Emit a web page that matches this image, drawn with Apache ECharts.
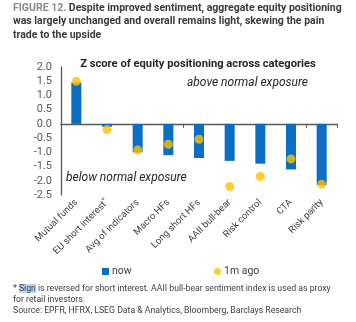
<!DOCTYPE html>
<html>
<head>
<meta charset="utf-8">
<script src="https://cdn.jsdelivr.net/npm/echarts@6/dist/echarts.min.js"></script>
<style>
  html, body { margin: 0; padding: 0; background: #ffffff; }
  #chart { width: 356px; height: 322px; }
</style>
</head>
<body>
<div id="chart"></div>
<script>
// Positioning categories and their z-scores
const categories = ['Mutual funds', 'EU short interest*', 'Avg of indicators', 'Macro HFs',
  'Long short HFs', 'AAII bull-bear', 'Risk control', 'CTA', 'Risk parity'];
const nowValues = [1.45, -0.1, -1.0, -1.1, -1.2, -1.3, -1.4, -1.6, -2.15];
const monthAgoValues = [1.5, -0.2, -0.92, -0.72, -0.54, -2.2, -1.85, -1.23, -2.12];
const yMin = -2.5, yMax = 2.0, yStep = 0.5;

const figureTag = 'FIGURE 12. ';
const headerLines = [
  'Despite improved sentiment, aggregate equity positioning',
  'was largely unchanged and overall remains light, skewing the pain',
  'trade to the upside'
];
const chartTitle = 'Z score of equity positioning across categories';
const aboveText = 'above normal exposure';
const belowText = 'below normal exposure';
const noteLines = [
  ['* ', 'Sign', ' is reversed for short interest. AAII bull-bear sentiment index is used as proxy'],
  ['', '', 'for retail investors.'],
  ['', '', 'Source: EPFR, HFRX, LSEG Data & Analytics, Bloomberg, Barclays Research']
];

const FONT = 'Roboto, "Noto Sans", sans-serif';

// pick a font size so that a line of text spans the wanted width
const measureCtx = document.createElement('canvas').getContext('2d');
function fitSize(text, width, weight, style) {
  measureCtx.font = (style || 'normal') + ' ' + (weight || 'normal') + ' 100px ' + FONT;
  return Math.round(100 * width / measureCtx.measureText(text).width * 10) / 10;
}
const headSize = fitSize(figureTag + headerLines[0], 328, 'bold');
const titleSize = fitSize(chartTitle, 237, 'bold');
const italicSize = fitSize(aboveText, 121, 'normal', 'italic');
const noteSize = fitSize(noteLines[0].join(''), 318);
const tickSize = fitSize('Mutual funds', 56);

const chart = echarts.init(document.getElementById('chart'), null, { renderer: 'canvas' });

const graphics = [];
headerLines.forEach((ln, i) => {
  graphics.push({
    type: 'text', left: 13, top: 3 + i * 13.3,
    style: {
      text: (i === 0 ? '{fig|' + figureTag + '}' : '') + '{b|' + ln + '}',
      rich: {
        fig: { fontFamily: FONT, fontSize: headSize, fontWeight: 'bold', fill: '#8c8c8c' },
        b: { fontFamily: FONT, fontSize: headSize, fontWeight: 'bold', fill: '#3a3a3a' }
      }
    }
  });
});
noteLines.forEach((ln, i) => {
  graphics.push({
    type: 'text', left: 13, top: 284 + i * 11.4,
    style: {
      text: (ln[0] ? '{n|' + ln[0] + '}' : '') + (ln[1] ? '{hl|' + ln[1] + '}' : '') + '{n|' + ln[2] + '}',
      rich: {
        n: { fontFamily: FONT, fontSize: noteSize, fill: '#404040' },
        hl: { fontFamily: FONT, fontSize: noteSize, fill: '#404040', backgroundColor: '#b9d3ee' }
      }
    }
  });
});
graphics.push({
  type: 'text', left: 187, top: 77,
  style: { text: aboveText, fontFamily: FONT, fontSize: italicSize, fontStyle: 'italic', fill: '#262626' }
});
graphics.push({
  type: 'text', left: 66, top: 172,
  style: { text: belowText, fontFamily: FONT, fontSize: italicSize, fontStyle: 'italic', fill: '#262626' }
});

const option = {
  animation: false,
  backgroundColor: '#ffffff',
  title: {
    text: chartTitle, left: 193, top: 54, textAlign: 'center',
    textStyle: { fontFamily: FONT, fontSize: titleSize, fontWeight: 'bold', color: '#262626' }
  },
  graphic: graphics,
  legend: [
    {
      data: ['now'], left: 97, top: 261, icon: 'rect', itemWidth: 7, itemHeight: 7, itemGap: 4,
      textStyle: { fontFamily: FONT, fontSize: 10.5, color: '#404040', padding: [0, 0, 0, -2] }
    },
    {
      data: ['1m ago'], left: 209, top: 261, icon: 'circle', itemWidth: 7, itemHeight: 7,
      textStyle: { fontFamily: FONT, fontSize: 10.5, color: '#404040', padding: [0, 0, 0, -2] }
    }
  ],
  grid: { left: 61, right: 19, top: 67, bottom: 127, containLabel: false },
  xAxis: [
    {
      type: 'category', data: categories, position: 'bottom',
      axisLine: { show: false, onZero: false }, axisTick: { show: false },
      axisLabel: {
        rotate: 45, interval: 0, margin: 6, fontFamily: FONT, fontSize: tickSize, color: '#404040',
        formatter: v => v.endsWith('*') ? '{t|' + v.slice(0, -1) + '}{s|*}' : '{t|' + v + '}',
        rich: {
          t: { fontFamily: FONT, fontSize: tickSize, color: '#404040' },
          s: { fontFamily: FONT, fontSize: 7, color: '#404040', verticalAlign: 'top', padding: [0, 0, 5, 0] }
        }
      }
    },
    {
      type: 'category', data: categories, position: 'top',
      axisLine: { show: true, onZero: true, lineStyle: { color: '#595959', width: 1.3 } },
      axisTick: { show: true, inside: true, length: 4, lineStyle: { color: '#595959' } },
      axisLabel: { show: false }
    }
  ],
  yAxis: {
    type: 'value', min: yMin, max: yMax, interval: yStep,
    axisLine: { show: true, lineStyle: { color: '#595959', width: 1.3 } },
    axisTick: { show: false }, splitLine: { show: false },
    axisLabel: { fontFamily: FONT, fontSize: 11, color: '#595959', margin: 9,
      formatter: v => v.toFixed(1) }
  },
  series: [
    { name: 'now', type: 'bar', data: nowValues, barWidth: 10, itemStyle: { color: '#0a6fc2' }, z: 2 },
    { name: '1m ago', type: 'scatter', data: monthAgoValues, symbolSize: 9, itemStyle: { color: '#ffc000' }, z: 3 }
  ]
};
chart.setOption(option);
</script>
</body>
</html>
